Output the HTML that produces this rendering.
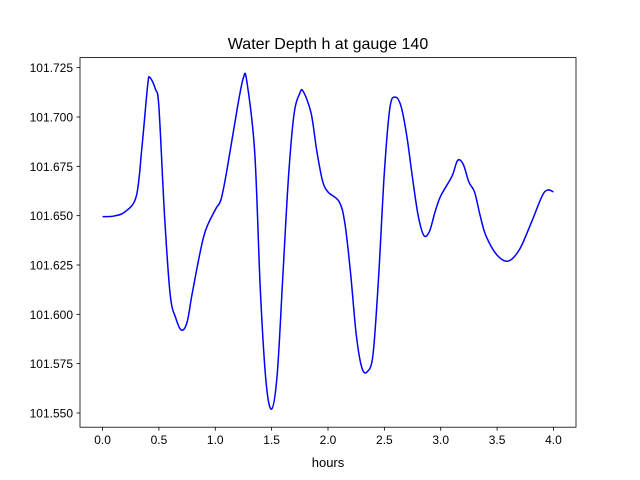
<!DOCTYPE html>
<html><head><meta charset="utf-8"><style>
body{margin:0;background:#fff;}
svg{display:block;font-family:"Liberation Sans","DejaVu Sans",sans-serif;}
</style></head><body>
<svg id="chart" width="640" height="480">
<rect width="640" height="480" fill="#fff"/>
<text x="328" y="49" font-size="16" text-anchor="middle">Water Depth h at gauge 140</text>
<g id="plot"></g>
<text x="328" y="467" font-size="13" text-anchor="middle">hours</text>
</svg>
<script>
const xs=[0,0.1,0.2,0.3,0.35,0.4,0.42,0.47,0.5,0.55,0.6,0.65,0.7,0.75,0.8,0.9,1.0,1.05,1.1,1.2,1.25,1.28,1.35,1.4,1.45,1.5,1.55,1.6,1.65,1.7,1.75,1.78,1.85,1.9,1.95,2.0,2.1,2.15,2.2,2.25,2.3,2.35,2.4,2.45,2.5,2.55,2.6,2.65,2.7,2.75,2.8,2.85,2.9,2.95,3.0,3.1,3.15,3.2,3.25,3.3,3.35,3.4,3.5,3.6,3.7,3.8,3.9,3.95,4.0];
const ys=[101.6495,101.6498,101.652,101.660,101.685,101.716,101.720,101.714,101.705,101.650,101.610,101.598,101.592,101.596,101.612,101.640,101.653,101.658,101.672,101.706,101.720,101.718,101.682,101.612,101.566,101.552,101.570,101.620,101.670,101.702,101.712,101.713,101.702,101.683,101.668,101.662,101.657,101.646,101.621,101.590,101.573,101.571,101.580,101.620,101.672,101.705,101.710,101.705,101.690,101.669,101.650,101.640,101.642,101.652,101.660,101.670,101.678,101.676,101.667,101.662,101.650,101.640,101.630,101.627,101.633,101.646,101.660,101.663,101.662];
const xTicks=[0,0.5,1,1.5,2,2.5,3,3.5,4];
const yTicks=[101.55,101.575,101.6,101.625,101.65,101.675,101.7,101.725];
const L=80,R=576,T=57.6,B=427.2,xmin=-0.2,xmax=4.2,ymin=101.5428,ymax=101.7301;
const sx=v=>L+(v-xmin)/(xmax-xmin)*(R-L);
const sy=v=>B-(v-ymin)/(ymax-ymin)*(B-T);
const g=document.getElementById('plot');const NS='http://www.w3.org/2000/svg';
function mk(t,a){const e=document.createElementNS(NS,t);for(const k in a)e.setAttribute(k,a[k]);g.appendChild(e);return e;}
xTicks.forEach(v=>{const x=sx(v);
const l=mk('line',{x1:x,x2:x,y1:B,y2:B+3.5,stroke:'#000','stroke-width':0.8});


const t=mk('text',{x:x,y:B+17,'font-size':12,'text-anchor':'middle'});t.textContent=v.toFixed(1);

});
yTicks.forEach(v=>{const y=sy(v);
const l=mk('line',{x1:L-3.5,x2:L,y1:y,y2:y,stroke:'#000','stroke-width':0.8});


const t=mk('text',{x:L-7,y:y+4.5,'font-size':12,'text-anchor':'end'});t.textContent=v.toFixed(3);

});
const P=xs.map((x,i)=>[sx(x),sy(ys[i])]);
let d='M'+P[0][0]+','+P[0][1];
for(let i=0;i<P.length-1;i++){const p0=P[Math.max(0,i-1)],p1=P[i],p2=P[i+1],p3=P[Math.min(P.length-1,i+2)];
d+=' C'+(p1[0]+(p2[0]-p0[0])/6)+','+(p1[1]+(p2[1]-p0[1])/6)+' '+(p2[0]-(p3[0]-p1[0])/6)+','+(p2[1]-(p3[1]-p1[1])/6)+' '+p2[0]+','+p2[1];}
const line=mk('path',{d:d,fill:'none',stroke:'#0000ff','stroke-width':1.5});


const f=mk('rect',{x:L,y:T,width:R-L,height:B-T,fill:'none',stroke:'#000','stroke-width':0.8});


</script>
</body></html>
